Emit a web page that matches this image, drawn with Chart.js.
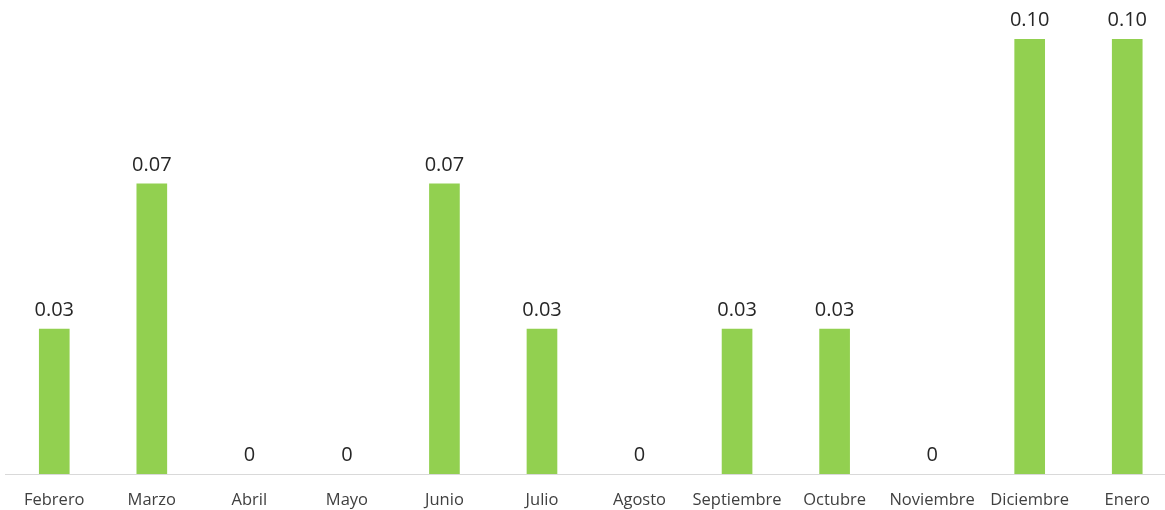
<!DOCTYPE html>
<html>
<head>
<meta charset="utf-8">
<script src="https://cdn.jsdelivr.net/npm/chart.js@4/dist/chart.umd.min.js"></script>
<style>
    html, body { margin: 0; padding: 0; background: #fff; overflow: hidden; }
    #wrap { width: 1180px; height: 510px; }
</style>
</head>
<body>
<div id="wrap"><canvas id="bars_chart"></canvas></div>
<script>
// months as shown on the axis
const months = ['Febrero', 'Marzo', 'Abril', 'Mayo', 'Junio', 'Julio', 'Agosto',
    'Septiembre', 'Octubre', 'Noviembre', 'Diciembre', 'Enero'];

// bar heights (1/30, 2/30, 3/30)
const values = [0.0333, 0.0667, 0, 0, 0.0667, 0.0333, 0, 0.0333, 0.0333, 0, 0.1, 0.1];

// labels printed above the bars
const valueLabels = ['0.03', '0.07', '0', '0', '0.07', '0.03', '0', '0.03', '0.03', '0', '0.10', '0.10'];

// draw the value labels over each bar
const barLabels = {
    id: 'barLabels',
    afterDatasetsDraw(chart) {
        const ctx = chart.ctx;
        const meta = chart.getDatasetMeta(0);
        ctx.save();
        ctx.font = '20px "Open Sans", sans-serif';
        ctx.fillStyle = '#262626';
        ctx.textAlign = 'center';
        ctx.textBaseline = 'middle';
        meta.data.forEach((bar, i) => {
            ctx.fillText(valueLabels[i], bar.x, bar.y - 19);
        });
        ctx.restore();
    }
}

new Chart(document.getElementById('bars_chart'), {
    type: 'bar',
    data: {
        labels: months,
        datasets: [{
            data: values,
            // no mark at all for empty months
            backgroundColor: values.map(v => v > 0 ? '#92d050' : 'rgba(0,0,0,0)'),
            barThickness: 30
        }]
    },
    options: {
        responsive: true,
        maintainAspectRatio: false,
        animation: false,
        layout: {
            padding: { top: 39, left: 5.5, right: 4, bottom: 0 }
        },
        plugins: {
            legend: { display: false },
            tooltip: { enabled: false }
        },
        scales: {
            x: {
                grid: { display: false },
                border: { color: '#d9d9d9', width: 1 },
                ticks: {
                    color: '#404040',
                    font: { family: '"Open Sans", sans-serif', size: 16.5 },
                    padding: 8,
                    maxRotation: 0,
                    autoSkip: false
                },
                afterFit: scale => { scale.height = 36; }
            },
            y: {
                display: false,
                min: 0,
                max: 0.1
            }
        }
    },
    plugins: [barLabels]
});
</script>
</body>
</html>
